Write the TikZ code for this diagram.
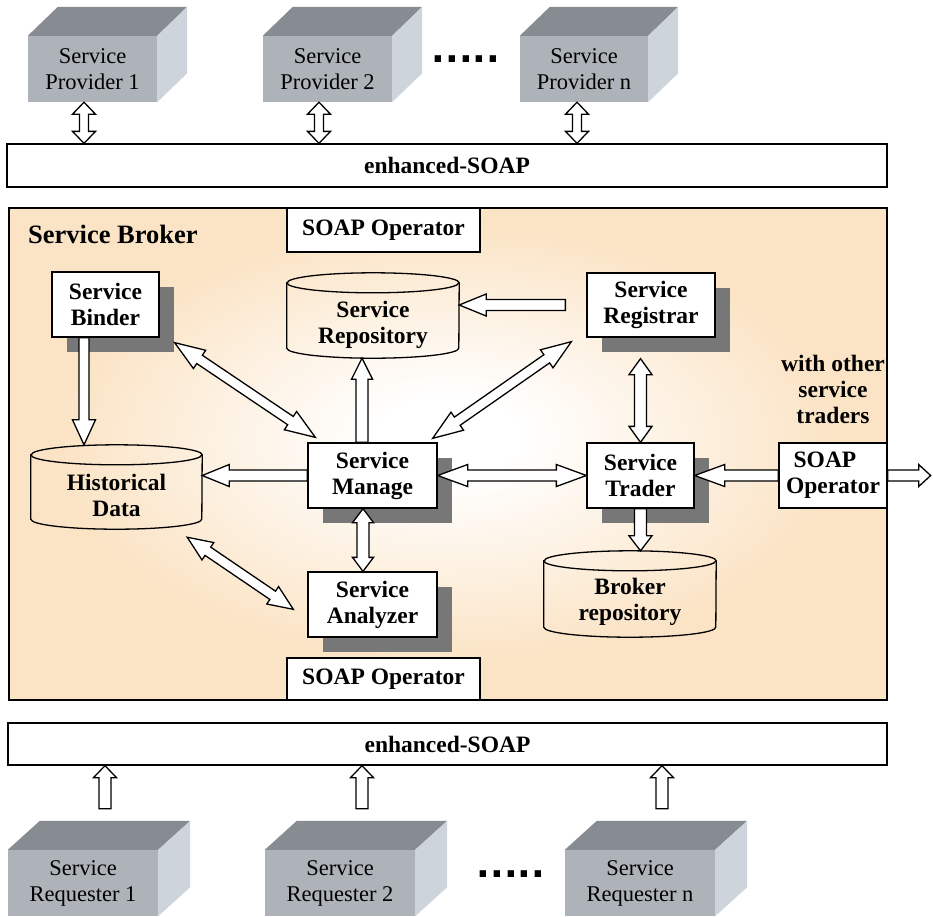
\documentclass[tikz,border=0pt]{standalone}
\usepackage{fontspec}
\setmainfont{Liberation Serif}
\newfontfamily\dotfont{DejaVu Sans}
\usetikzlibrary{calc,shadows}

\definecolor{peach}{HTML}{FBE4C6}
\definecolor{shadowgray}{HTML}{777777}
\definecolor{cubefront}{HTML}{AEB3BA}
\definecolor{cubetop}{HTML}{878B92}
\definecolor{cubeside}{HTML}{CED4DC}

\pgfdeclareradialshading{brokerglow}{\pgfpoint{0bp}{2bp}}{%
  color(0bp)=(white); color(4bp)=(white); color(22bp)=(peach); color(50bp)=(peach)}

% hollow block arrow with one head, from #1 to #2
\newcommand\onearrow[5]{%
  \path let \p1=($(#2)-(#1)$) in \pgfextra{%
    \pgfmathparse{veclen(\x1,\y1)}\xdef\arlen{\pgfmathresult}%
    \pgfmathparse{atan2(\y1,\x1)}\xdef\arang{\pgfmathresult}};
  \draw[hollow,shift={(#1)},rotate=\arang]
    (0,#4) -- ({\arlen-#3},#4) -- ({\arlen-#3},#5) -- (\arlen,0)
    -- ({\arlen-#3},-#5) -- ({\arlen-#3},-#4) -- (0,-#4) -- cycle;
}
% hollow block arrow with heads at both ends
\newcommand\twoarrow[5]{%
  \path let \p1=($(#2)-(#1)$) in \pgfextra{%
    \pgfmathparse{veclen(\x1,\y1)}\xdef\arlen{\pgfmathresult}%
    \pgfmathparse{atan2(\y1,\x1)}\xdef\arang{\pgfmathresult}};
  \draw[hollow,shift={(#1)},rotate=\arang]
    (0,0) -- (#3,#5) -- (#3,#4) -- ({\arlen-#3},#4) -- ({\arlen-#3},#5) -- (\arlen,0)
    -- ({\arlen-#3},-#5) -- ({\arlen-#3},-#4) -- (#3,-#4) -- (#3,-#5) -- cycle;
}
% database drum around a node
\newcommand\drawdrum[2]{%
  \draw[lw] ($(#1.north west)+(0,-10)$) -- ($(#1.south west)+(0,10)$)
    arc[start angle=180,end angle=360,x radius=#2,y radius=10]
    -- ($(#1.north east)+(0,-10)$)
    arc[start angle=0,end angle=180,x radius=#2,y radius=10] -- cycle;
  \draw[lw] ($(#1.north west)+(0,-10)$)
    arc[start angle=180,end angle=360,x radius=#2,y radius=10];
}
% grey 3D block faces around a node
\newcommand\cubefaces[3]{%
  \fill[cubetop] (#1.north west) -- ++(#2,#3) -- ($(#1.north east)+(#2,#3)$) -- (#1.north east) -- cycle;
  \fill[cubeside] (#1.north east) -- ++(#2,#3) -- ($(#1.south east)+(#2,#3)$) -- (#1.south east) -- cycle;
}

\tikzset{
  lw/.style={line width=1.3pt},
  hollow/.style={draw, fill=white, line width=1.3pt, line join=miter, miter limit=10},
  boldtext/.style={font=\fontsize{23.5}{26}\selectfont\bfseries},
  bar/.style={draw, lw, fill=white, inner sep=0, boldtext},
  box/.style={draw, lw, fill=white, inner sep=0, align=center, boldtext},
  sbox/.style={box, drop shadow={shadow xshift=15pt, shadow yshift=-15pt, fill=shadowgray, opacity=1}},
  drum/.style={inner sep=0},
  drumtext/.style={inner sep=0, align=center, boldtext},
  cube/.style={fill=cubefront, inner sep=0, align=center, minimum height=66,
    font=\fontsize{22.5}{26}\selectfont},
  dots/.style={anchor=base west, inner sep=0, font=\dotfont\bfseries\fontsize{36}{36}\selectfont},
}

\begin{document}
\begin{tikzpicture}[x=1pt,y=1pt]
\useasboundingbox (0,0) rectangle (933,-916);

% providers
\node[cube, minimum width=129] (p1) at (92.5,-69) {Service\\Provider 1};
\node[cube, minimum width=129] (p2) at (327.5,-69) {Service\\Provider 2};
\node[cube, minimum width=128] (pn) at (584,-69) {Service\\Provider n};
\cubefaces{p1}{30}{29}
\cubefaces{p2}{30}{29}
\cubefaces{pn}{30}{29}
\node[dots] (topdots) at (431.6,-62.5) {.....};

% enhanced-SOAP bars
\node[bar, minimum width=880, minimum height=43] (topbar) at (447,-165.5) {enhanced-SOAP};
\node[bar, minimum width=879, minimum height=42] (botbar) at (447.5,-744) {enhanced-SOAP};

% broker frame
\node[draw, lw, shade, shading=brokerglow, inner sep=0, minimum width=878, minimum height=492] (broker) at (448,-454) {};
\node[anchor=base west, inner sep=0, font=\fontsize{26.5}{30}\selectfont\bfseries] (brokerlabel) at (28,-243) {Service Broker};

\node[box, minimum width=193, minimum height=44] (soapT) at (383.5,-230) {SOAP Operator};
\node[box, minimum width=193, minimum height=42] (soapB) at (383.5,-679) {SOAP Operator};

% components
\node[sbox, minimum width=107, minimum height=65] (binder) at (105.5,-304.5) {Service\\Binder};
\node[sbox, minimum width=129, minimum height=65] (manage) at (372.5,-475.5) {Service\\Manage};
\node[sbox, minimum width=128, minimum height=64] (registrar) at (651,-305) {Service\\Registrar};
\node[sbox, minimum width=107, minimum height=65] (trader) at (640.5,-475.5) {Service\\Trader};
\node[sbox, minimum width=129, minimum height=65] (analyzer) at (372.5,-604.5) {Service\\Analyzer};
\node[box, minimum width=108, minimum height=65] (soapR) at (833,-475.5) {SOAP\kern16pt\\Operator};
\node[inner sep=0, align=center, boldtext] (others) at (833,-389) {with other\\service\\traders};

% repositories
\node[drum, minimum width=172, minimum height=85] (repo) at (373,-315.5) {};
\drawdrum{repo}{86}
\node[drumtext] (repotext) at ([yshift=-9]repo.center) {Service\\Repository};
\node[drum, minimum width=171, minimum height=84] (hist) at (116.5,-487) {};
\drawdrum{hist}{85.5}
\node[drumtext] (histtext) at ([yshift=-8]hist.center) {Historical\\Data};
\node[drum, minimum width=172, minimum height=86] (brepo) at (630,-594) {};
\drawdrum{brepo}{86}
\node[drumtext] (brepotext) at ([yshift=-8]brepo.center) {Broker\\repository};

% requesters
\node[cube, minimum width=150] (r1) at (83,-883) {Service\\Requester 1};
\node[cube, minimum width=150] (r2) at (340,-883) {Service\\Requester 2};
\node[cube, minimum width=150] (rn) at (640,-883) {Service\\Requester n};
\cubefaces{r1}{32}{29}
\cubefaces{r2}{32}{29}
\cubefaces{rn}{32}{29}
\node[dots] (botdots) at (476.6,-877) {.....};

% provider links
\coordinate (pa1) at ([xshift=-8.5]p1.south);
\coordinate (pb1) at (pa1 |- topbar.north);
\coordinate (pa2) at ([xshift=-8.5]p2.south);
\coordinate (pb2) at (pa2 |- topbar.north);
\coordinate (pan) at ([xshift=-7]pn.south);
\coordinate (pbn) at (pan |- topbar.north);
\twoarrow{pa1}{pb1}{12}{4.5}{11.5}
\twoarrow{pa2}{pb2}{12}{4.5}{11.5}
\twoarrow{pan}{pbn}{12}{4.5}{11.5}

% requester links
\coordinate (ra1) at ([xshift=22,yshift=41]r1.north);
\coordinate (rb1) at (ra1 |- botbar.south);
\coordinate (ra2) at ([xshift=22,yshift=41]r2.north);
\coordinate (rb2) at (ra2 |- botbar.south);
\coordinate (ran) at ([xshift=22,yshift=41]rn.north);
\coordinate (rbn) at (ran |- botbar.south);
\onearrow{ra1}{rb1}{12}{6}{11.5}
\onearrow{ra2}{rb2}{12}{6}{11.5}
\onearrow{ran}{rbn}{12}{6}{11.5}

% links inside the broker
\coordinate (bh1) at ([xshift=-21.5]binder.south);
\coordinate (bh2) at (bh1 |- hist.north);
\onearrow{bh1}{bh2}{25}{5}{11.5}

\coordinate (mr1) at ([xshift=-10.5]manage.north);
\coordinate (mr2) at (mr1 |- repo.south);
\onearrow{mr1}{mr2}{21}{6}{10.5}

\coordinate (rr1) at ([xshift=-21]registrar.west);
\coordinate (rr2) at (rr1 -| repo.east);
\onearrow{rr1}{rr2}{27}{5.5}{11}

\coordinate (rm1) at ([xshift=-15,yshift=-4]registrar.south west);
\coordinate (rm2) at ([xshift=-5,yshift=4]manage.north east);
\twoarrow{rm1}{rm2}{30}{5}{11}

\coordinate (bm1) at ([xshift=15,yshift=-5]binder.south east);
\coordinate (bm2) at ([xshift=8,yshift=5]manage.north west);
\twoarrow{bm1}{bm2}{30}{5}{11}

\coordinate (mh2) at (manage.west -| hist.east);
\onearrow{manage.west}{mh2}{27}{5.5}{11}

\twoarrow{manage.east}{trader.west}{30}{5.5}{11}
\onearrow{soapR.west}{trader.east}{30}{5.5}{11}
\coordinate (outside) at ([xshift=43]soapR.east);
\onearrow{soapR.east}{outside}{12}{5.5}{11}

\coordinate (ma1) at ([xshift=-9.5]manage.south);
\coordinate (ma2) at (ma1 |- analyzer.north);
\twoarrow{ma1}{ma2}{14}{6}{10.5}

\coordinate (rt1) at ($(trader.north |- registrar.south)+(0,-21)$);
\twoarrow{rt1}{trader.north}{16}{6}{11.5}

\coordinate (tb) at (trader.south |- brepo.north);
\onearrow{trader.south}{tb}{15}{6}{11.5}

\coordinate (ha1) at ([xshift=-15,yshift=-8]hist.south east);
\coordinate (ha2) at ([xshift=-14,yshift=-38]analyzer.north west);
\twoarrow{ha1}{ha2}{25}{5}{10.5}
\end{tikzpicture}
\end{document}
